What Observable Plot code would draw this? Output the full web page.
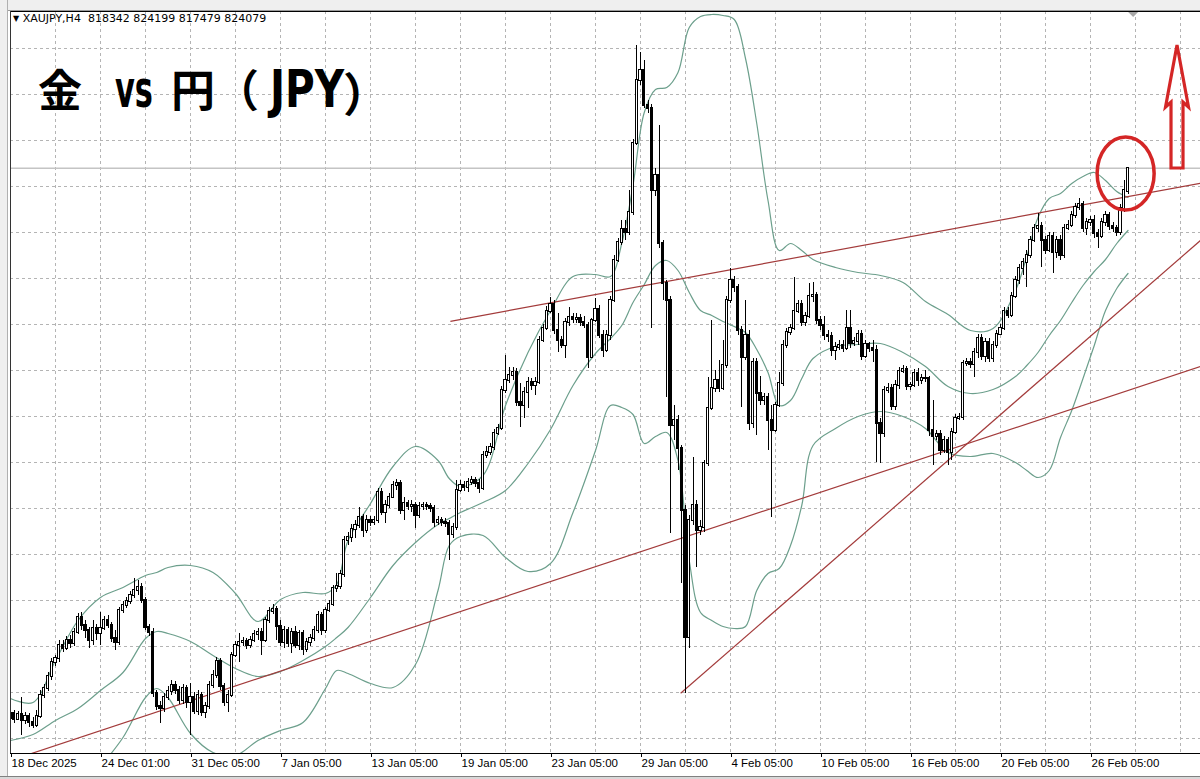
<!DOCTYPE html>
<html><head><meta charset="utf-8">
<script src="https://cdn.jsdelivr.net/npm/d3@7"></script>
<script src="https://cdn.jsdelivr.net/npm/@observablehq/plot@0.6"></script>
<style>
body{margin:0;background:#fff;}
#wrap{position:relative;width:1200px;height:779px;overflow:hidden;background:#fff;font-family:"Liberation Sans",Arial,sans-serif;}
#chart{position:absolute;left:0;top:0;}
.chrome{position:absolute;background:#efefef;}
#hdr{position:absolute;left:13px;top:12px;font-size:11px;color:#000;white-space:pre;font-family:"DejaVu Sans",sans-serif;}
#hdr .tri{font-size:8px;vertical-align:1px;}
.t{position:absolute;color:#000;white-space:pre;line-height:1;}
.cjk{font-family:"Noto Sans CJK JP";font-weight:700;font-size:44px;}
.lat{font-family:"DejaVu Sans";font-weight:700;font-size:52px;transform-origin:0 0;}
</style>
</head><body>
<div id="wrap">
  <div id="chart"></div>
  <div class="chrome" style="left:0;top:0;width:1200px;height:10px;border-bottom:1px solid #9a9a9a;"></div>
  <div class="chrome" style="left:0;top:0;width:7px;height:779px;border-right:1px solid #b0b0b0;"></div>
  <div class="chrome" style="left:0;top:776px;width:1200px;height:3px;border-top:1px solid #808080;background:#d8d8d8;"></div>
  <div id="hdr"><span class="tri">▼</span> XAUJPY,H4  818342 824199 817479 824079</div>
  <div class="t cjk" style="left:38px;top:66px;">金</div>
  <div class="t lat" style="left:115px;top:63px;transform:scaleX(0.585);">vs</div>
  <div class="t cjk" style="left:171px;top:66px;">円（</div>
  <div class="t lat" style="left:270px;top:63px;transform:scaleX(0.78);">JPY</div>
  <div class="t cjk" style="left:343px;top:68px;font-size:46px;">）</div>
</div>
<script>
// ---- XAUJPY H4 candles (thousand JPY), bar index 0 = 18 Dec 2025 ----
const open = [
686.5,687.8,686.3,687.5,686,687,685.5,684.8,687,692.3,
694,697,700.5,701.5,704.8,704,706,705.3,708,711.8,
709.8,708.5,706,709,707.8,709,711,709.8,706.5,705.5,
713.5,714.8,715.8,717.3,718.5,719.3,716,709.3,708,692.8,
689.5,689,691.8,693.3,694.8,693.5,691,694,690.5,691.8,
688.3,692.3,688,689.5,694.8,697.3,700.8,694.5,690.5,692.3,
702.3,704.8,705.5,705.8,704.8,706,707.5,708,706,711,
713.3,713.8,709.5,705.5,708.5,705.3,708,704.8,707.8,703.8,
705.5,706.5,708.5,712.3,708.5,713.5,715,719,719.5,722.5,
731,731.8,733.8,734.8,736.8,733.5,736,735.5,736,743,
738,739.8,741.8,744.8,745.3,738.5,740.3,739.5,739.8,737.3,
739.5,739.8,739.5,739,735.5,736,735.5,735.3,732.5,734.3,
743.5,744.8,744.3,745.5,746,745.3,744,752.3,753,754.3,
757.8,759,768.5,771,772.3,773,765.5,764.8,768,770.5,
769.8,770.5,781,784,788.3,790,783.5,781,779.8,785.5,
786.8,786.3,786.5,785.5,784.8,776.8,786,788.8,782.3,778.5,
782.3,791,801,805.5,808.8,808,813,830.3,846,848.5,
839.8,839,818.5,822.3,805.3,795.3,791,759.8,761,754,
738.5,706.8,736,739.8,733.5,734.3,750.3,764,769,771,
769,774.8,791,796,794.3,783.5,776.8,782.3,760.3,775.5,
767.8,766,766.8,761,758.5,764.8,770.3,779.8,783,784,
788.3,790,785.5,787,792,792.3,786,784.8,782.3,782,
778.5,779.3,779.8,779,784,780.3,780.8,782.5,777,780,
779,778.5,760.3,757.8,768.5,769,764.5,769.8,773.3,773.8,
769.5,769.8,772.8,771,771.5,771.5,758.5,757,757.5,753.5,
756,753,758,761.5,761.8,775.3,775.5,775,778,781.5,
777,780.5,776.5,779.8,782.5,784,788.3,787.3,792,796,
799,800.5,802.3,806,809,809.5,806,803.5,807,803,
806,802.3,809,809.8,812.3,814.3,815,809,810.5,811,
807.8,807,810.5,812.3,809.5,809,808,814,818.342
];
const high = [
688.8,688.5,688.3,691.8,688,687.8,686.8,688.5,693.5,695,
698,701.5,702.3,706,706,707,707.3,709,712.8,713,
711,709.3,711,710,713,712,712.3,710.5,708.5,714.3,
715.8,716.8,718.3,721.5,721,720.3,716.8,710,709,693.5,
690.8,692.8,694.5,696,695.8,694.5,695,694.8,695.3,693,
693.5,693,690.5,695.8,698.5,701.8,701.5,695.3,693.5,703,
705.8,707.8,706.8,706.5,707,708.5,709,709,711.8,714.3,
715,714.5,711,709.5,709.3,709,709.5,708.5,708.5,706.5,
707.5,709.5,713.3,713,714.3,716,719.8,722.8,723.5,732,
733,735,736,739.3,737.5,737.3,737,737,744,744,
741,742.8,745.8,746.3,746,741.8,741,741,740.5,740.5,
740.5,740.5,740.3,739.8,737,736.8,736.5,736,735.3,746,
746,745.8,746.5,747,746.8,746.3,753.3,754.5,755.3,758.8,
760,769.5,777.3,774.3,774.3,774,770.3,769.3,771.8,771.5,
771.8,782,785,789.5,791.8,791,787.8,782,786.5,789.3,
787.8,787.8,787.5,787,785.5,786.5,791.5,789.8,783.5,783.5,
792,802.3,806.5,811,811,818.5,831.3,854.8,853,851,
841,840,824,834.8,806,796,792,764.8,762.3,754.8,
739.8,737.3,751.8,741,736,751,771.8,786,773.5,776,
781,792,799,797,795,784.5,791,783.5,776.5,776.5,
772,767.8,767.8,764.8,765.5,773,781,784,785,796.8,
791,791,788,795.3,795.5,793,787,787,783.5,783,
780.5,781,781,788.5,788.5,781.8,783.5,783.5,781,780.5,
781,779.8,761.5,769.5,770.3,770,771,774.3,774.8,774.5,
770.5,773.8,774,772.5,773.5,772,766,758.5,758.5,757,
756.8,759,762.5,762.8,776,776.5,776.5,779,782.5,782.5,
781.5,781.5,780.8,783.5,785,789.3,789.3,793,797,800,
801.5,803.5,807,810,812.8,810.5,807,808,808,807,
807.3,810,811,813.3,815.3,816.5,815.8,811.5,812,812.3,
808.8,811.5,813.3,813,810.5,809.8,815,821,824.199
];
const low = [
685,685.3,686,682.3,685,684.3,684,684.3,686.5,691.5,
693.3,696,699.5,700.5,703,703.5,704,704.5,707.5,708.5,
706.5,704,704.8,706,704.8,708.5,709,705.5,703.5,704.8,
712.8,714,715,716.5,717.3,715.3,708.5,707,691.8,688.5,
685.3,688,691,692.3,692.5,690,690,689,682.3,687.5,
687.3,687,686.5,688.8,694,696.5,693.5,689.5,688,691.8,
701.8,700.5,704.5,703.8,704,705.5,706,702.3,705.5,710.3,
712.5,706,704.5,704,704.3,702.8,704,703.5,702.3,703,
704.5,705.8,707.8,707.3,707.8,713,714.5,718,718.8,721.8,
729.8,730.5,731.5,734,731.8,732.8,734.5,734.8,735.3,737.3,
735.3,739,741.5,743.5,737.5,736,738.5,738,734,736.5,
738.5,738.5,738,734.3,734.8,734.5,734.3,726,731.5,733.5,
743,743.3,743,744.8,744.3,742.8,743.5,751.5,752.3,753.5,
757.3,758.5,767.8,770.3,771,764.5,759.3,761.5,764,768.5,
767.3,770,780.5,783.5,787.8,782.5,778,779,776.5,784.5,
785.3,785.3,784.5,784,774,776.5,785.5,781.5,776.8,778,
781,790.5,800.5,804.8,806,807.3,812.3,829.8,844.8,839,
837.8,784,817,804,791,766.8,732.8,756,748.5,720.3,
692.8,704,734.8,724.3,732.3,733,749.5,763.5,768,768,
768.5,774,790.3,793,782.3,764.3,776,758.5,759,757.3,
764.8,764.8,753.5,736.8,758,764.3,769.5,779,782.3,783.5,
787.8,784.5,784.5,786.5,790.5,785,783.5,781,780.5,777,
776,778.5,778,778.5,779,779.5,779.8,776,776.5,778,
775.5,750.5,750.3,756.8,767.8,763.5,763.5,768.8,772.8,768.5,
768.5,769.3,769.5,770,770.5,757,749.8,756,752.3,752.8,
749.8,751,757.5,761,761,774.5,774,771.8,776.5,776,
775.5,775.5,775.5,779,782.3,783.5,786.5,786.8,791.5,795,
797.3,794.3,801.5,805.5,808,799.3,802.5,803,797.8,801.5,
801,801.5,808.5,809.3,811.5,813.5,808,807.3,809.5,806.5,
804,806.5,809.5,808.5,808,807,807.3,813,817.479
];
const close = [
687.8,686.3,687.5,686,687,685.5,684.8,687,692.3,694,
697,700.5,701.5,704.8,704,706,705.3,708,711.8,709.8,
708.5,706,709,707.8,709,711,709.8,706.5,705.5,713.5,
714.8,715.8,717.3,718.5,719.3,716,709.3,708,692.8,689.5,
689,691.8,693.3,694.8,693.5,691,694,690.5,691.8,688.3,
692.3,688,689.5,694.8,697.3,700.8,694.5,690.5,692.3,702.3,
704.8,705.5,705.8,704.8,706,707.5,708,706,711,713.3,
713.8,709.5,705.5,708.5,705.3,708,704.8,707.8,703.8,705.5,
706.5,708.5,712.3,708.5,713.5,715,719,719.5,722.5,731,
731.8,733.8,734.8,736.8,733.5,736,735.5,736,743,738,
739.8,741.8,744.8,745.3,738.5,740.3,739.5,739.8,737.3,739.5,
739.8,739.5,739,735.5,736,735.5,735.3,732.5,734.3,743.5,
744.8,744.3,745.5,746,745.3,744,752.3,753,754.3,757.8,
759,768.5,771,772.3,773,765.5,764.8,768,770.5,769.8,
770.5,781,784,788.3,790,783.5,781,779.8,785.5,786.8,
786.3,786.5,785.5,784.8,776.8,786,788.8,782.3,778.5,782.3,
791,801,805.5,808.8,808,813,830.3,846,848.5,839.8,
839,818.5,822.3,805.3,795.3,791,759.8,761,754,738.5,
706.8,736,739.8,733.5,734.3,750.3,764,769,771,769,
774.8,791,796,794.3,783.5,776.8,782.3,760.3,775.5,767.8,
766,766.8,761,758.5,764.8,770.3,779.8,783,784,788.3,
790,785.5,787,792,792.3,786,784.8,782.3,782,778.5,
779.3,779.8,779,784,780.3,780.8,782.5,777,780,779,
778.5,760.3,757.8,768.5,769,764.5,769.8,773.3,773.8,769.5,
769.8,772.8,771,771.5,771.5,758.5,757,757.5,753.5,756,
753,758,761.5,761.8,775.3,775.5,775,778,781.5,777,
780.5,776.5,779.8,782.5,784,788.3,787.3,792,796,799,
800.5,802.3,806,809,809.5,806,803.5,807,803,806,
802.3,809,809.8,812.3,814.3,815,809,810.5,811,807.8,
807,810.5,812.3,809.5,809,808,814,818.5,824.079
];

// ---- Bollinger bands at these bars ----
const bandBars = [0,6,12,18,24,30,36,39,42,48,54,60,66,72,78,84,87,90,96,102,108,114,117,120,126,132,138,144,150,156,160,163,166,169,172,175,178,181,184,187,190,193,196,199,202,205,208,211,214,220,226,232,238,244,250,256,262,268,271,274,277,280,283,286,289,292,295,298];
const bandUpper = [691.5,690.5,701,711,716.75,719.25,722.25,723,724.25,724.75,723,717.75,710.75,716.25,718,717.75,720,731,740.25,749.5,754.5,751,746.5,744.5,747.25,764.75,778,788.5,797,797.5,797,805.25,819.75,838,843.75,844.25,848,859.25,862,862.5,862.25,861.25,851.5,835.25,816,803.5,805.25,803.5,801.25,799.25,798,797.25,795.5,790.75,787.5,783.5,784,793.5,802,811.75,816.5,817.75,820.25,822,823,821,818.25,816.75];
const bandMiddle = [681,682.5,686,689,693.5,698,706.5,708.25,707.75,705.75,702.25,699,697,698.25,701,704.5,706.75,709.25,716.75,724.75,730.5,735,736.5,738,740.5,743.5,750.25,758.75,769.75,777.75,781.5,784.75,790.5,795,799.75,801,798.5,793,788.5,787.25,785.75,784.5,783,778.75,773,764.75,766,771.5,776.5,779.5,780,780.25,778,774.5,769.5,767.75,768.75,772,774.75,778,782.25,786,790.5,794.75,798.25,801.25,805.25,808.5];
const bandLower = [668.5,668,667.5,668,674.5,681.75,691.75,694,691.75,682.75,678,677.25,681,683.5,685.5,694,698.5,697.75,695.25,694.25,700,718.5,729.75,732,732.25,726.75,723.25,725.25,738,753.5,764.75,764.25,762.5,755.25,757,758,751,726,713,711,709.5,709,709.5,718.5,722.75,724,729.75,739.75,754.75,759,762,763.25,762,759,753,752,752.75,750.5,748.5,746.75,748.5,756.75,763.5,771.5,779.75,788.5,794,797.75];

// ---- hand-drawn trend lines (bar index, price) ----
const trendStartBar = [117.3, 4.8, 178.7];
const trendStartPrice = [785.8, 677.5, 692.8];
const trendEndBar = [317.3, 317.3, 317.3];
const trendEndPrice = [820.3, 774.5, 806];

// ---- annotations (bar index, price) ----
const circleBars = [289.9, 305.1];
const circlePrices = [813.5, 831.75];
const arrowBar = 311.2;
const arrowPrices = [824, 839.25, 854.75]; // bottom, head base, tip

// ---- axis / grid ----
const labelBars = [0,24,48,72,96,120,144,168,192,216,240,264,288];
const dateLabels = ["18 Dec 2025","24 Dec 01:00","31 Dec 05:00","7 Jan 05:00","13 Jan 05:00","19 Jan 05:00","23 Jan 05:00","29 Jan 05:00","4 Feb 05:00","10 Feb 05:00","16 Feb 05:00","20 Feb 05:00","26 Feb 05:00"];
const gridBars = [0,12,24,36,48,60,72,84,96,108,120,132,144,156,168,180,192,204,216,228,240,252,264,276,288,300,312];
const gridPrices = [854,842.5,831,819.5,808,796.5,785,773.5,762,750.5,739,727.5,716,704.5,693,681.5];
const xDomain = [0, 317.33];
const yDomain = [677.75, 863.25];

const bars = close.map((c, i) => ({i, o: open[i], h: high[i], l: low[i], c}));
const bands = bandBars.map((b, k) => ({b, up: bandUpper[k], mid: bandMiddle[k], lo: bandLower[k]}));
const trends = trendStartBar.map((b, k) => ({x1: b, y1: trendStartPrice[k], x2: trendEndBar[k], y2: trendEndPrice[k]}));
const labelMap = new Map(labelBars.map((b, k) => [b, dateLabels[k]]));

const bandColor = "#6c9f8c";
const trendColor = "#a33b3b";

const plot = Plot.plot({
  width: 1200, height: 779,
  marginLeft: 10, marginRight: 0, marginTop: 11, marginBottom: 26,
  x: {type: "linear", domain: xDomain, axis: null},
  y: {type: "linear", domain: yDomain, axis: null},
  style: {fontFamily: "Liberation Sans, Arial, sans-serif", fontSize: "11.5px", background: "#fff", color: "#000"},
  marks: [
    Plot.gridX(gridBars, {stroke: "#b4b4b4", strokeOpacity: 1, strokeDasharray: "3,3"}),
    Plot.gridY(gridPrices, {stroke: "#b4b4b4", strokeOpacity: 1, strokeDasharray: "3,3"}),
    Plot.ruleY([close[close.length - 1]], {stroke: "#c4c4c4", strokeWidth: 1.5}),
    Plot.line(bands, {x: "b", y: "up", curve: "catmull-rom", stroke: bandColor, strokeWidth: 1.2, clip: true}),
    Plot.line(bands, {x: "b", y: "mid", curve: "catmull-rom", stroke: bandColor, strokeWidth: 1.2, clip: true}),
    Plot.line(bands, {x: "b", y: "lo", curve: "catmull-rom", stroke: bandColor, strokeWidth: 1.2, clip: true}),
    Plot.link(trends, {x1: "x1", y1: "y1", x2: "x2", y2: "y2", stroke: trendColor, strokeWidth: 1.2, clip: true}),
    Plot.ruleX(bars, {x: "i", y1: "l", y2: "h", stroke: "#000", strokeWidth: 1, shapeRendering: "crispEdges", clip: true}),
    Plot.rect(bars, {x1: d => d.i - 0.3, x2: d => d.i + 0.3, y1: "o", y2: "c",
      fill: d => d.c >= d.o ? "#fff" : "#000", stroke: "#000", strokeWidth: 1,
      insetTop: -0.5, insetBottom: -0.5, shapeRendering: "crispEdges", clip: true}),
    Plot.ruleY([yDomain[0]], {stroke: "#000", strokeWidth: 1}),
    Plot.ruleY([yDomain[1]], {stroke: "#000", strokeWidth: 1}),
    Plot.ruleX([xDomain[0]], {stroke: "#333", strokeWidth: 1}),
    Plot.axisX(labelBars, {anchor: "bottom", tickFormat: d => labelMap.get(d), textAnchor: "start",
      tickSize: 4, tickPadding: 1, dx: 1, fontSize: 11.5, fill: "#000"})
  ]
});
document.getElementById("chart").appendChild(plot);

// annotations drawn through the plot's scales
const sx = plot.scale("x"), sy = plot.scale("y");
const svg = d3.select(plot);
const cx1 = sx.apply(circleBars[0]), cx2 = sx.apply(circleBars[1]);
const cy1 = sy.apply(circlePrices[1]), cy2 = sy.apply(circlePrices[0]);
svg.append("ellipse")
  .attr("cx", (cx1 + cx2) / 2).attr("cy", (cy1 + cy2) / 2)
  .attr("rx", (cx2 - cx1) / 2).attr("ry", (cy2 - cy1) / 2)
  .attr("fill", "none").attr("stroke", "#d42626").attr("stroke-width", 3.5);
const ax = sx.apply(arrowBar);
const yb = sy.apply(arrowPrices[0]), yh = sy.apply(arrowPrices[1]), yt = sy.apply(arrowPrices[2]);
const hw = 11.5, sw = 6;
svg.append("path")
  .attr("d", `M${ax},${yt}L${ax + hw},${yh}L${ax + sw},${yh - 5}L${ax + sw},${yb}L${ax - sw},${yb}L${ax - sw},${yh - 5}L${ax - hw},${yh}Z`)
  .attr("fill", "none").attr("stroke", "#d42626").attr("stroke-width", 3.2).attr("stroke-linejoin", "miter");
// chart-shift marker
const mx = sx.apply(299.5), my = sy.apply(yDomain[1]);
svg.append("path").attr("d", `M${mx - 5},${my + 1}L${mx + 5},${my + 1}L${mx},${my + 6}Z`).attr("fill", "#a8a8a8");
</script>
</body></html>
